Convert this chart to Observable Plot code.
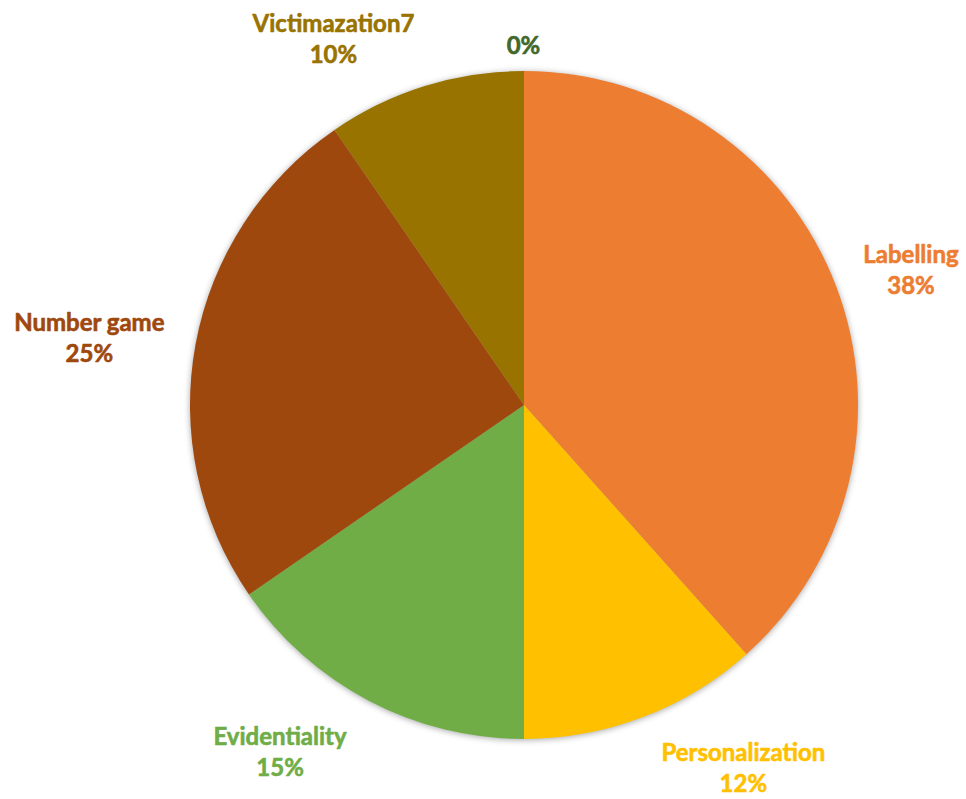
<!DOCTYPE html>
<html>
<head>
<meta charset="utf-8">
<script src="https://cdn.jsdelivr.net/npm/d3@7"></script>
<script src="https://cdn.jsdelivr.net/npm/@observablehq/plot@0.6"></script>
<style>
  html, body { margin: 0; padding: 0; background: #ffffff; }
  #chart { width: 966px; height: 799px; }
</style>
</head>
<body>
<div id="chart"></div>
<script>
// ---- data ----
const categories = ["Labelling", "Personalization", "Evidentiality", "Number game", "Victimazation7", ""];
const values = [38.4, 11.6, 15.4, 25.0, 9.6, 0];
const colors = ["#ED7D31", "#FFC000", "#70AD47", "#9E480E", "#997300", "#43682B"];

// ---- layout (label nudges, px) ----
const labelNudge = [[12, 6], [76, -13], [-58, -10], [-41, 4], [-72, 15], [-1, 39]];

const W = 966, H = 799;
const R = 334; // pixel radius => one data unit
const table = categories.map((c, i) => ({category: c, value: values[i], color: colors[i], nudge: labelNudge[i]}));
const total = d3.sum(values);
const arcs = d3.pie().sort(null).value(d => d.value)(table);
const fmt = d3.format(".0%");

const labels = arcs.map(a => {
  const mid = (a.startAngle + a.endAngle) / 2;
  const k = 1.2;
  return {
    x: Math.sin(mid) * k + a.data.nudge[0] / R,
    y: Math.cos(mid) * k - a.data.nudge[1] / R,
    text: (a.data.category ? a.data.category + "\n" : "") + fmt(a.data.value / total),
    color: a.data.color
  };
});

function pieMark(index, scales) {
  const cx = scales.x(0), cy = scales.y(0);
  const r = Math.abs(scales.x(1) - scales.x(0));
  const arcGen = d3.arc().innerRadius(0).outerRadius(r);
  const g = d3.create("svg:g")
    .attr("transform", `translate(${cx},${cy})`)
    .style("filter", "drop-shadow(0px 1px 3px rgba(0,0,0,0.35))");
  g.selectAll("path")
    .data(arcs.filter(a => a.data.value > 0))
    .join("path")
    .attr("d", arcGen)
    .attr("fill", d => d.data.color);
  return g.node();
}

const plot = Plot.plot({
  width: W,
  height: H,
  marginLeft: 190,
  marginRight: W - 858,
  marginTop: 71,
  marginBottom: H - 739,
  x: {domain: [-1, 1], axis: null},
  y: {domain: [-1, 1], axis: null},
  style: {background: "#ffffff", fontFamily: "Lato, 'Open Sans', sans-serif"},
  marks: [
    pieMark,
    Plot.text(labels, {
      x: "x", y: "y", text: "text", fill: "color",
      stroke: "color", strokeWidth: 0.6,
      fontSize: 24, fontWeight: "bold", lineHeight: 1.29,
      textAnchor: "middle", clip: false
    })
  ]
});
document.getElementById("chart").appendChild(plot);
</script>
</body>
</html>
